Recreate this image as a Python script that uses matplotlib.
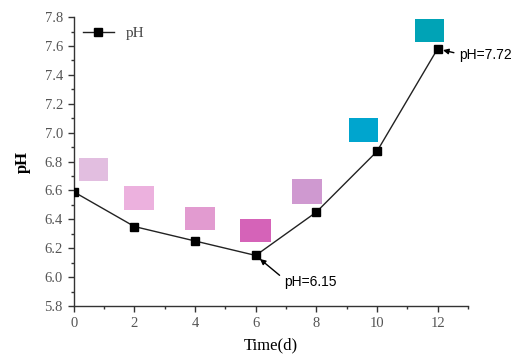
import matplotlib.pyplot as plt
from matplotlib.patches import Rectangle
from matplotlib.ticker import MultipleLocator

days = [0, 2, 4, 6, 8, 10, 12]
ph = [6.59, 6.35, 6.25, 6.15, 6.45, 6.87, 7.58]

# colour swatches above each point: (x0, y0, width, height, colour)
swatch_x = [0.17, 1.65, 3.67, 5.49, 7.2, 9.09, 11.24]
swatch_y = [6.665, 6.465, 6.326, 6.243, 6.506, 6.935, 7.627]
swatch_w = [0.96, 1.0, 1.0, 1.0, 1.0, 0.96, 0.96]
swatch_h = [0.16, 0.165, 0.16, 0.157, 0.174, 0.165, 0.16]
swatch_colors = ["#E2BEE0", "#ECB1DE", "#E29BD0", "#D563B8", "#CF99D0", "#00A5CE", "#00A3B6"]

serif = ["Liberation Serif", "DejaVu Serif"]
sans = ["Liberation Sans", "DejaVu Sans"]

fig = plt.figure(figsize=(5.13, 3.56), dpi=100)
ax = fig.add_axes([0.144, 0.1404, 0.768, 0.8116])

for x0, y0, w, h, c in zip(swatch_x, swatch_y, swatch_w, swatch_h, swatch_colors):
    ax.add_patch(Rectangle((x0, y0), w, h, color=c, lw=0, zorder=1))

ax.plot(days, ph, color="#222222", lw=1.0, marker="s", ms=6, mfc="black", mec="black",
        label="pH", zorder=3)

ax.annotate("pH=6.15", xy=(days[3], ph[3]), xytext=(6.95, 5.965),
            fontsize=10, family=sans, va="center", ha="left",
            arrowprops=dict(arrowstyle="-|>", color="black", lw=1.0, shrinkA=2, shrinkB=4,
                            mutation_scale=8, relpos=(0.0, 0.7)))
ax.annotate("pH=7.72", xy=(days[6], ph[6]), xytext=(12.72, 7.535),
            fontsize=10, family=sans, va="center", ha="left",
            arrowprops=dict(arrowstyle="-|>", color="black", lw=1.0, shrinkA=2, shrinkB=4,
                            mutation_scale=8, relpos=(0.0, 0.6)))

ax.set_xlim(0, 13)
ax.set_ylim(5.8, 7.8)
ax.xaxis.set_major_locator(MultipleLocator(2))
ax.xaxis.set_minor_locator(MultipleLocator(1))
ax.yaxis.set_major_locator(MultipleLocator(0.2))
ax.yaxis.set_minor_locator(MultipleLocator(0.1))
ax.yaxis.set_major_formatter(plt.FuncFormatter(lambda v, p: f"{v:.1f}"))
ax.tick_params(which="major", direction="out", length=4, width=1, labelsize=10.5,
               colors="#333333", pad=4)
ax.tick_params(which="minor", direction="out", length=2, width=1, colors="#333333")
for lab in ax.get_xticklabels() + ax.get_yticklabels():
    lab.set_family(serif)
    lab.set_color("#555555")
for side in ("top", "right"):
    ax.spines[side].set_visible(False)
for side in ("left", "bottom"):
    ax.spines[side].set_color("#333333")
    ax.spines[side].set_linewidth(1.0)

ax.set_xlabel("Time(d)", fontsize=12, family=serif, labelpad=5)
ax.set_ylabel("pH", fontsize=12, family=serif, fontweight="bold", labelpad=10)
leg = ax.legend(loc="upper left", frameon=False, prop={"family": serif, "size": 11},
                handlelength=2.0, borderaxespad=0.2, bbox_to_anchor=(0.0, 1.0))
for t in leg.get_texts():
    t.set_color("#444444")

fig.savefig("out.png", dpi=100)
